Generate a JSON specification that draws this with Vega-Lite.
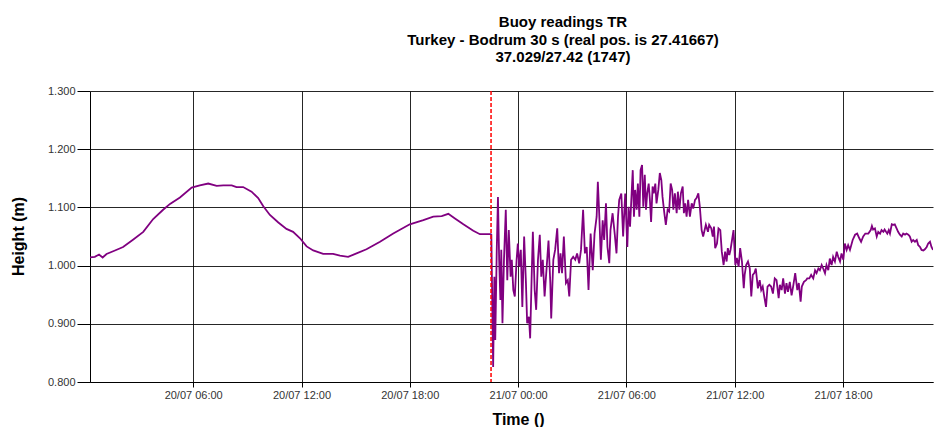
{
  "$schema": "https://vega.github.io/schema/vega-lite/v6.json",
  "width": 843,
  "height": 291,
  "autosize": "none",
  "padding": {"left": 90, "top": 91, "right": 1, "bottom": 45},
  "background": "white",
  "config": {
    "view": {"stroke": null},
    "font": "Liberation Sans"
  },
  "title": {
    "text": ["Buoy readings TR", "Turkey - Bodrum 30 s (real pos. is 27.41667)", "37.029/27.42 (1747)"],
    "fontSize": 15,
    "fontWeight": "bold",
    "font": "Liberation Sans",
    "color": "#000000",
    "lineHeight": 17.5,
    "anchor": "middle",
    "baseline": "bottom",
    "offset": 5,
    "dx": 51.5
  },
  "layer": [
    {
      "data": {"values": [
        {"t":"2023-07-20T00:17","h":1.014},{"t":"2023-07-20T00:33","h":1.015},{"t":"2023-07-20T00:47","h":1.019},{"t":"2023-07-20T00:59","h":1.014},{"t":"2023-07-20T01:12","h":1.020},{"t":"2023-07-20T01:40","h":1.026},{"t":"2023-07-20T02:07","h":1.032},{"t":"2023-07-20T02:41","h":1.045},{"t":"2023-07-20T03:14","h":1.058},{"t":"2023-07-20T03:47","h":1.080},{"t":"2023-07-20T04:20","h":1.096},{"t":"2023-07-20T04:43","h":1.106},{"t":"2023-07-20T05:16","h":1.117},{"t":"2023-07-20T05:55","h":1.134},{"t":"2023-07-20T06:22","h":1.138},{"t":"2023-07-20T06:50","h":1.141},{"t":"2023-07-20T07:18","h":1.137},{"t":"2023-07-20T07:40","h":1.138},{"t":"2023-07-20T08:08","h":1.138},{"t":"2023-07-20T08:24","h":1.135},{"t":"2023-07-20T08:46","h":1.135},{"t":"2023-07-20T09:14","h":1.127},{"t":"2023-07-20T09:36","h":1.116},{"t":"2023-07-20T09:53","h":1.102},{"t":"2023-07-20T10:15","h":1.087},{"t":"2023-07-20T10:43","h":1.074},{"t":"2023-07-20T11:10","h":1.063},{"t":"2023-07-20T11:32","h":1.058},{"t":"2023-07-20T11:55","h":1.047},{"t":"2023-07-20T12:17","h":1.033},{"t":"2023-07-20T12:39","h":1.026},{"t":"2023-07-20T13:12","h":1.020},{"t":"2023-07-20T13:45","h":1.020},{"t":"2023-07-20T14:08","h":1.017},{"t":"2023-07-20T14:35","h":1.015},{"t":"2023-07-20T15:03","h":1.021},{"t":"2023-07-20T15:36","h":1.028},{"t":"2023-07-20T16:21","h":1.041},{"t":"2023-07-20T17:05","h":1.055},{"t":"2023-07-20T18:00","h":1.071},{"t":"2023-07-20T18:45","h":1.078},{"t":"2023-07-20T19:18","h":1.084},{"t":"2023-07-20T19:46","h":1.085},{"t":"2023-07-20T20:08","h":1.089},{"t":"2023-07-20T20:30","h":1.081},{"t":"2023-07-20T20:58","h":1.071},{"t":"2023-07-20T21:31","h":1.060},{"t":"2023-07-20T21:53","h":1.054},{"t":"2023-07-20T22:29","h":1.054},{"t":"2023-07-20T22:31","h":1.053},
        {"t":"2023-07-20T22:37","h":0.826},{"t":"2023-07-20T22:41","h":0.981},{"t":"2023-07-20T22:44","h":0.872},{"t":"2023-07-20T22:49","h":1.027},{"t":"2023-07-20T22:53","h":1.118},{"t":"2023-07-20T22:57","h":1.010},{"t":"2023-07-20T23:01","h":0.941},{"t":"2023-07-20T23:04","h":1.027},{"t":"2023-07-20T23:08","h":0.901},{"t":"2023-07-20T23:13","h":1.010},{"t":"2023-07-20T23:19","h":1.096},{"t":"2023-07-20T23:24","h":0.975},{"t":"2023-07-20T23:29","h":1.061},{"t":"2023-07-20T23:35","h":0.981},{"t":"2023-07-20T23:39","h":1.010},{"t":"2023-07-20T23:44","h":0.958},{"t":"2023-07-20T23:49","h":0.947},{"t":"2023-07-20T23:55","h":1.010},{"t":"2023-07-20T23:59","h":1.038},
        {"t":"2023-07-21T00:04","h":0.998},{"t":"2023-07-21T00:09","h":1.027},{"t":"2023-07-21T00:14","h":0.929},{"t":"2023-07-21T00:20","h":1.050},{"t":"2023-07-21T00:26","h":0.970},{"t":"2023-07-21T00:30","h":0.901},{"t":"2023-07-21T00:36","h":0.912},{"t":"2023-07-21T00:40","h":0.875},{"t":"2023-07-21T00:45","h":0.981},{"t":"2023-07-21T00:49","h":1.058},{"t":"2023-07-21T00:55","h":0.958},{"t":"2023-07-21T01:00","h":0.924},{"t":"2023-07-21T01:06","h":1.010},{"t":"2023-07-21T01:12","h":1.053},{"t":"2023-07-21T01:17","h":0.981},{"t":"2023-07-21T01:22","h":1.010},{"t":"2023-07-21T01:28","h":0.947},{"t":"2023-07-21T01:35","h":0.998},{"t":"2023-07-21T01:41","h":1.043},{"t":"2023-07-21T01:47","h":0.970},{"t":"2023-07-21T01:50","h":0.909},{"t":"2023-07-21T01:57","h":1.010},{"t":"2023-07-21T02:03","h":1.027},{"t":"2023-07-21T02:10","h":1.064},{"t":"2023-07-21T02:16","h":0.987},{"t":"2023-07-21T02:21","h":1.021},{"t":"2023-07-21T02:26","h":0.987},{"t":"2023-07-21T02:32","h":1.050},{"t":"2023-07-21T02:39","h":0.970},{"t":"2023-07-21T02:45","h":0.975},{"t":"2023-07-21T02:50","h":0.947},{"t":"2023-07-21T02:56","h":1.010},{"t":"2023-07-21T03:03","h":1.015},{"t":"2023-07-21T03:10","h":1.010},{"t":"2023-07-21T03:16","h":1.021},{"t":"2023-07-21T03:23","h":1.004},{"t":"2023-07-21T03:29","h":1.027},{"t":"2023-07-21T03:36","h":1.096},{"t":"2023-07-21T03:42","h":1.021},{"t":"2023-07-21T03:48","h":1.032},{"t":"2023-07-21T03:54","h":0.958},{"t":"2023-07-21T04:01","h":1.055},{"t":"2023-07-21T04:08","h":0.992},{"t":"2023-07-21T04:14","h":1.055},{"t":"2023-07-21T04:21","h":1.084},{"t":"2023-07-21T04:25","h":1.144},{"t":"2023-07-21T04:30","h":1.084},{"t":"2023-07-21T04:35","h":1.010},{"t":"2023-07-21T04:41","h":1.078},{"t":"2023-07-21T04:46","h":1.044},{"t":"2023-07-21T04:52","h":1.107},{"t":"2023-07-21T04:57","h":1.032},{"t":"2023-07-21T05:03","h":1.004},{"t":"2023-07-21T05:07","h":1.061},{"t":"2023-07-21T05:14","h":1.090},{"t":"2023-07-21T05:21","h":1.055},{"t":"2023-07-21T05:27","h":1.021},{"t":"2023-07-21T05:32","h":1.084},{"t":"2023-07-21T05:36","h":1.113},{"t":"2023-07-21T05:43","h":1.124},{"t":"2023-07-21T05:49","h":1.050},{"t":"2023-07-21T05:56","h":1.124},{"t":"2023-07-21T06:03","h":1.032},{"t":"2023-07-21T06:07","h":1.101},{"t":"2023-07-21T06:12","h":1.067},{"t":"2023-07-21T06:21","h":1.164},{"t":"2023-07-21T06:25","h":1.084},{"t":"2023-07-21T06:29","h":1.130},{"t":"2023-07-21T06:34","h":1.096},{"t":"2023-07-21T06:38","h":1.141},{"t":"2023-07-21T06:43","h":1.084},{"t":"2023-07-21T06:47","h":1.164},{"t":"2023-07-21T06:52","h":1.173},{"t":"2023-07-21T06:56","h":1.101},{"t":"2023-07-21T07:01","h":1.156},{"t":"2023-07-21T07:05","h":1.096},{"t":"2023-07-21T07:09","h":1.124},{"t":"2023-07-21T07:14","h":1.141},{"t":"2023-07-21T07:18","h":1.113},{"t":"2023-07-21T07:22","h":1.075},{"t":"2023-07-21T07:27","h":1.136},{"t":"2023-07-21T07:31","h":1.124},{"t":"2023-07-21T07:36","h":1.141},{"t":"2023-07-21T07:40","h":1.107},{"t":"2023-07-21T07:46","h":1.130},{"t":"2023-07-21T07:51","h":1.159},{"t":"2023-07-21T07:56","h":1.147},{"t":"2023-07-21T08:00","h":1.118},{"t":"2023-07-21T08:06","h":1.090},{"t":"2023-07-21T08:11","h":1.070},{"t":"2023-07-21T08:17","h":1.096},{"t":"2023-07-21T08:22","h":1.093},{"t":"2023-07-21T08:27","h":1.141},{"t":"2023-07-21T08:32","h":1.130},{"t":"2023-07-21T08:36","h":1.096},{"t":"2023-07-21T08:41","h":1.124},{"t":"2023-07-21T08:47","h":1.090},{"t":"2023-07-21T08:51","h":1.127},{"t":"2023-07-21T08:56","h":1.096},{"t":"2023-07-21T09:01","h":1.124},{"t":"2023-07-21T09:07","h":1.136},{"t":"2023-07-21T09:11","h":1.090},{"t":"2023-07-21T09:15","h":1.107},{"t":"2023-07-21T09:20","h":1.084},{"t":"2023-07-21T09:25","h":1.113},{"t":"2023-07-21T09:31","h":1.084},{"t":"2023-07-21T09:37","h":1.107},{"t":"2023-07-21T09:42","h":1.098},{"t":"2023-07-21T09:48","h":1.113},{"t":"2023-07-21T09:53","h":1.116},{"t":"2023-07-21T09:59","h":1.124},{"t":"2023-07-21T10:04","h":1.101},{"t":"2023-07-21T10:10","h":1.061},{"t":"2023-07-21T10:15","h":1.050},{"t":"2023-07-21T10:24","h":1.070},{"t":"2023-07-21T10:31","h":1.058},{"t":"2023-07-21T10:35","h":1.070},{"t":"2023-07-21T10:42","h":1.064},{"t":"2023-07-21T10:47","h":1.050},{"t":"2023-07-21T10:51","h":1.067},{"t":"2023-07-21T10:55","h":1.030},{"t":"2023-07-21T11:01","h":1.038},{"t":"2023-07-21T11:06","h":1.064},{"t":"2023-07-21T11:12","h":1.061},{"t":"2023-07-21T11:17","h":1.024},{"t":"2023-07-21T11:23","h":1.001},{"t":"2023-07-21T11:28","h":1.024},{"t":"2023-07-21T11:33","h":1.007},{"t":"2023-07-21T11:37","h":1.030},{"t":"2023-07-21T11:42","h":1.018},{"t":"2023-07-21T11:46","h":1.027},{"t":"2023-07-21T11:51","h":1.044},{"t":"2023-07-21T11:56","h":1.061},{"t":"2023-07-21T12:02","h":1.001},{"t":"2023-07-21T12:07","h":1.013},{"t":"2023-07-21T12:13","h":0.998},{"t":"2023-07-21T12:18","h":1.030},{"t":"2023-07-21T12:24","h":1.007},{"t":"2023-07-21T12:30","h":0.961},{"t":"2023-07-21T12:33","h":0.984},{"t":"2023-07-21T12:38","h":1.001},{"t":"2023-07-21T12:44","h":1.007},{"t":"2023-07-21T12:50","h":0.995},{"t":"2023-07-21T12:55","h":0.947},{"t":"2023-07-21T13:00","h":0.984},{"t":"2023-07-21T13:05","h":0.987},{"t":"2023-07-21T13:10","h":0.995},{"t":"2023-07-21T13:17","h":0.961},{"t":"2023-07-21T13:23","h":0.975},{"t":"2023-07-21T13:28","h":0.958},{"t":"2023-07-21T13:33","h":0.964},{"t":"2023-07-21T13:38","h":0.947},{"t":"2023-07-21T13:44","h":0.929},{"t":"2023-07-21T13:49","h":0.964},{"t":"2023-07-21T13:55","h":0.967},{"t":"2023-07-21T14:01","h":0.964},{"t":"2023-07-21T14:07","h":0.952},{"t":"2023-07-21T14:13","h":0.978},{"t":"2023-07-21T14:19","h":0.975},{"t":"2023-07-21T14:26","h":0.944},{"t":"2023-07-21T14:30","h":0.967},{"t":"2023-07-21T14:36","h":0.958},{"t":"2023-07-21T14:41","h":0.978},{"t":"2023-07-21T14:47","h":0.952},{"t":"2023-07-21T14:52","h":0.970},{"t":"2023-07-21T14:57","h":0.955},{"t":"2023-07-21T15:03","h":0.972},{"t":"2023-07-21T15:09","h":0.949},{"t":"2023-07-21T15:14","h":0.964},{"t":"2023-07-21T15:21","h":0.987},{"t":"2023-07-21T15:28","h":0.958},{"t":"2023-07-21T15:33","h":0.970},{"t":"2023-07-21T15:39","h":0.938},{"t":"2023-07-21T15:43","h":0.964},{"t":"2023-07-21T15:50","h":0.972},{"t":"2023-07-21T15:57","h":0.975},{"t":"2023-07-21T16:01","h":0.978},{"t":"2023-07-21T16:08","h":0.978},{"t":"2023-07-21T16:14","h":0.984},{"t":"2023-07-21T16:21","h":0.978},{"t":"2023-07-21T16:27","h":0.992},{"t":"2023-07-21T16:32","h":0.987},{"t":"2023-07-21T16:38","h":0.995},{"t":"2023-07-21T16:43","h":0.992},{"t":"2023-07-21T16:49","h":1.001},{"t":"2023-07-21T16:54","h":0.995},{"t":"2023-07-21T17:00","h":0.987},{"t":"2023-07-21T17:05","h":1.001},{"t":"2023-07-21T17:11","h":0.992},{"t":"2023-07-21T17:16","h":1.012},{"t":"2023-07-21T17:22","h":1.001},{"t":"2023-07-21T17:27","h":1.015},{"t":"2023-07-21T17:33","h":1.007},{"t":"2023-07-21T17:39","h":1.024},{"t":"2023-07-21T17:44","h":1.015},{"t":"2023-07-21T17:50","h":1.007},{"t":"2023-07-21T17:55","h":1.021},{"t":"2023-07-21T18:01","h":1.010},{"t":"2023-07-21T18:06","h":1.038},{"t":"2023-07-21T18:12","h":1.027},{"t":"2023-07-21T18:17","h":1.035},{"t":"2023-07-21T18:23","h":1.027},{"t":"2023-07-21T18:32","h":1.044},{"t":"2023-07-21T18:40","h":1.053},{"t":"2023-07-21T18:47","h":1.055},{"t":"2023-07-21T18:54","h":1.047},{"t":"2023-07-21T19:00","h":1.041},{"t":"2023-07-21T19:07","h":1.050},{"t":"2023-07-21T19:14","h":1.055},{"t":"2023-07-21T19:24","h":1.055},{"t":"2023-07-21T19:32","h":1.061},{"t":"2023-07-21T19:36","h":1.068},{"t":"2023-07-21T19:40","h":1.062},{"t":"2023-07-21T19:46","h":1.064},{"t":"2023-07-21T19:52","h":1.050},{"t":"2023-07-21T19:57","h":1.058},{"t":"2023-07-21T20:03","h":1.055},{"t":"2023-07-21T20:08","h":1.061},{"t":"2023-07-21T20:14","h":1.058},{"t":"2023-07-21T20:18","h":1.062},{"t":"2023-07-21T20:23","h":1.058},{"t":"2023-07-21T20:27","h":1.055},{"t":"2023-07-21T20:32","h":1.061},{"t":"2023-07-21T20:36","h":1.055},{"t":"2023-07-21T20:42","h":1.071},{"t":"2023-07-21T20:47","h":1.070},{"t":"2023-07-21T20:52","h":1.071},{"t":"2023-07-21T20:58","h":1.064},{"t":"2023-07-21T21:03","h":1.058},{"t":"2023-07-21T21:09","h":1.053},{"t":"2023-07-21T21:15","h":1.050},{"t":"2023-07-21T21:20","h":1.055},{"t":"2023-07-21T21:26","h":1.053},{"t":"2023-07-21T21:31","h":1.055},{"t":"2023-07-21T21:37","h":1.053},{"t":"2023-07-21T21:42","h":1.050},{"t":"2023-07-21T21:48","h":1.041},{"t":"2023-07-21T21:53","h":1.044},{"t":"2023-07-21T21:59","h":1.041},{"t":"2023-07-21T22:05","h":1.044},{"t":"2023-07-21T22:10","h":1.035},{"t":"2023-07-21T22:16","h":1.032},{"t":"2023-07-21T22:21","h":1.027},{"t":"2023-07-21T22:27","h":1.026},{"t":"2023-07-21T22:32","h":1.028},{"t":"2023-07-21T22:38","h":1.032},{"t":"2023-07-21T22:43","h":1.038},{"t":"2023-07-21T22:49","h":1.041},{"t":"2023-07-21T22:54","h":1.032},{"t":"2023-07-21T22:59","h":1.027}
      ]},
      "mark": {"type": "line", "color": "#800080", "strokeWidth": 1.8, "clip": true},
      "encoding": {
        "x": {
          "field": "t",
          "type": "temporal",
          "scale": {"domain": ["2023-07-20T00:17", "2023-07-21T22:59"], "nice": false},
          "axis": {
            "title": "Time ()",
            "titleFontSize": 16,
            "titleFontWeight": "bold",
            "titleColor": "#000000",
            "titleX": 428,
            "titleY": 37,
            "titleBaseline": "middle",
            "format": "%d/%m %H:%M",
            "values": ["2023-07-20T06:00", "2023-07-20T12:00", "2023-07-20T18:00", "2023-07-21T00:00", "2023-07-21T06:00", "2023-07-21T12:00", "2023-07-21T18:00"],
            "labelFontSize": 11,
            "labelColor": "#333333",
            "labelPadding": 2,
            "tickSize": 5,
            "tickColor": "#000000",
            "domainColor": "#000000",
            "grid": true,
            "gridColor": "#000000",
            "gridOpacity": 0.85,
            "labelOverlap": false
          }
        },
        "y": {
          "field": "h",
          "type": "quantitative",
          "scale": {"domain": [0.8, 1.3], "nice": false, "zero": false},
          "axis": {
            "title": "Height (m)",
            "titleFontSize": 16,
            "titleFontWeight": "bold",
            "titleColor": "#000000",
            "titleX": -71.5,
            "titleY": 145,
            "titleBaseline": "middle",
            "titleAlign": "center",
            "values": [0.8, 0.9, 1.0, 1.1, 1.2, 1.3],
            "format": ".3f",
            "labelFontSize": 11,
            "labelColor": "#333333",
            "labelPadding": 2,
            "tickSize": 13,
            "tickColor": "#000000",
            "domainColor": "#000000",
            "grid": true,
            "gridColor": "#000000",
            "gridOpacity": 0.85
          }
        }
      }
    },
    {
      "data": {"values": [{"t": "2023-07-20T22:30"}]},
      "mark": {"type": "rule", "color": "#ff0000", "strokeWidth": 1.5, "strokeDash": [4, 2]},
      "encoding": {
        "x": {"field": "t", "type": "temporal"}
      }
    }
  ]
}
